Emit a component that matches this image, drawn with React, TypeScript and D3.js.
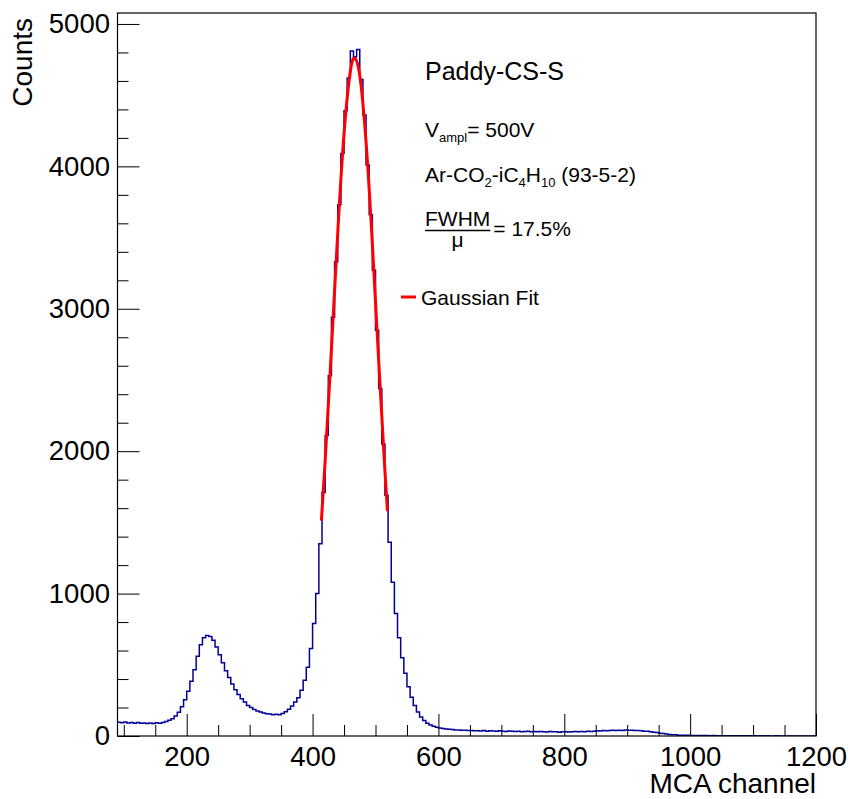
import React, { useEffect, useRef } from "react";
import * as d3 from "d3";

// histogram: 5-channel bins starting at channel 90
const binStart = 90;
const binWidth = 5;
const counts = [
  96, 93, 98, 92, 95, 90, 94, 89, 92, 88, 91, 87, 93, 89, 95, 101, 110, 122, 140, 166,
  205, 255, 315, 385, 465, 560, 640, 690, 705, 698, 672, 625, 570, 515, 458, 410, 365, 325, 292, 262,
  238, 215, 200, 186, 176, 168, 162, 157, 154, 150, 152, 149, 158, 170, 188, 210, 238, 268, 322, 392,
  482, 615, 790, 1000, 1350, 1710, 2110, 2530, 2940, 3330, 3730, 4090, 4390, 4620, 4810, 4770, 4820, 4610, 4360, 4010,
  3660, 3270, 2850, 2440, 2050, 1690, 1360, 1080, 860, 690, 550, 440, 345, 272, 214, 168, 133, 108, 90, 78,
  68, 61, 56, 52, 49, 47, 45, 43, 42, 40,
  40, 38, 39, 36, 37, 35, 38, 34, 36, 35, 33, 36, 34, 32, 35, 33, 31, 34, 30, 32,
  33, 30, 31, 29, 32, 30, 28, 31, 29, 30, 27, 30, 29, 28, 30, 31, 29, 32, 30, 33,
  31, 34, 36, 35, 38, 36, 39, 40, 38, 41, 39, 42, 40, 41, 38, 39, 36, 34, 33, 30,
  27, 24, 20, 17, 14, 11, 9, 8, 6, 6, 5, 5, 4, 4, 3, 4, 3, 3, 2, 3,
  2, 2, 2, 1, 2, 1, 1, 2, 1, 1, 1, 1, 1, 0, 1, 0, 1, 0, 0, 1,
  0, 0, 0, 0, 0, 0, 0, 0, 0, 0, 0, 0,
];

// gaussian fit curve
const fitChannels = [414, 420, 430, 440, 450, 460, 467, 475, 485, 495, 505, 515, 519];
const fitCounts = [1512, 1932, 2722, 3535, 4230, 4666, 4760, 4637, 4170, 3456, 2640, 1859, 1579];

const xMajorTicks = [200, 400, 600, 800, 1000, 1200];
const yMajorTicks = [0, 1000, 2000, 3000, 4000, 5000];

const FONT = "'Liberation Sans', Arial, Helvetica, sans-serif";

const App = () => {
  const svgRef = useRef<SVGSVGElement>(null);

  useEffect(() => {
    const svg = d3.select(svgRef.current);
    svg.selectAll("*").remove();

    const left = 117.5, right = 816, top = 13, bottom = 736;

    const x = d3.scaleLinear().domain([90, 1200]).range([left, right]);
    const y = d3.scaleLinear().domain([0, 5077]).range([bottom, top]);

    const xMinor = d3.range(100, 1201, 50).filter((v) => v % 200 !== 0);
    const yMinor = d3.range(0, 5001, 200).filter((v) => v % 1000 !== 0);

    svg.append("defs").append("clipPath").attr("id", "plotclip")
      .append("rect")
      .attr("x", left).attr("y", top)
      .attr("width", right - left).attr("height", bottom - top);

    // histogram as steps
    const pts: [number, number][] = counts.map((c, i) => [binStart + i * binWidth, c]);
    pts.push([binStart + counts.length * binWidth, counts[counts.length - 1]]);

    const step = d3.line<[number, number]>()
      .x((d) => x(d[0]))
      .y((d) => y(d[1]))
      .curve(d3.curveStepAfter);

    svg.append("path")
      .datum(pts)
      .attr("clip-path", "url(#plotclip)")
      .attr("fill", "none")
      .attr("stroke", "#000099")
      .attr("stroke-width", 1.5)
      .attr("d", step);

    // fit
    const fitLine = d3.line<number>()
      .x((d, i) => x(fitChannels[i]))
      .y((d) => y(d))
      .curve(d3.curveNatural);

    svg.append("path")
      .datum(fitCounts)
      .attr("fill", "none")
      .attr("stroke", "#ff0000")
      .attr("stroke-width", 3)
      .attr("d", fitLine);

    // axes, ticks pointing inwards
    const xAxis = svg.append("g").attr("transform", `translate(0, ${bottom})`)
      .call(d3.axisBottom(x).tickValues(xMajorTicks).tickSize(-22).tickPadding(10).tickFormat(d3.format("d")));
    svg.append("g").attr("transform", `translate(0, ${bottom})`)
      .call(d3.axisBottom(x).tickValues(xMinor).tickSize(-11).tickFormat(() => ""));

    const yAxis = svg.append("g").attr("transform", `translate(${left}, 0)`)
      .call(d3.axisLeft(y).tickValues(yMajorTicks).tickSize(-22).tickPadding(7.5).tickFormat(d3.format("d")));
    svg.append("g").attr("transform", `translate(${left}, 0)`)
      .call(d3.axisLeft(y).tickValues(yMinor).tickSize(-11).tickFormat(() => ""));

    svg.selectAll(".domain").remove();
    svg.selectAll(".tick line").attr("stroke", "#000").attr("stroke-width", 1);
    [xAxis, yAxis].forEach((g) =>
      g.selectAll("text").attr("font-family", FONT).attr("font-size", 27.5).attr("fill", "#000"));

    // frame
    svg.append("rect")
      .attr("x", left).attr("y", top)
      .attr("width", right - left).attr("height", bottom - top)
      .attr("fill", "none").attr("stroke", "#000").attr("stroke-width", 1.2);

    // axis titles
    svg.append("text")
      .attr("x", right).attr("y", 793)
      .attr("text-anchor", "end")
      .attr("font-family", FONT).attr("font-size", 28)
      .text("MCA channel");

    svg.append("text")
      .attr("transform", `translate(32, 18) rotate(-90)`)
      .attr("text-anchor", "end")
      .attr("font-family", FONT).attr("font-size", 28)
      .text("Counts");

    // annotations
    const tx = 425;
    const fs = 21;
    const sub = 13;
    svg.append("text").attr("x", tx).attr("y", 80)
      .attr("font-family", FONT).attr("font-size", 25).text("Paddy-CS-S");

    const v = svg.append("text").attr("x", tx).attr("y", 137)
      .attr("font-family", FONT).attr("font-size", fs);
    v.append("tspan").text("V");
    v.append("tspan").attr("font-size", sub).attr("dy", 5).text("ampl");
    v.append("tspan").attr("dy", -5).text("= 500V");

    const gas = svg.append("text").attr("x", tx).attr("y", 182)
      .attr("font-family", FONT).attr("font-size", fs);
    gas.append("tspan").text("Ar-CO");
    gas.append("tspan").attr("font-size", sub).attr("dy", 5).text("2");
    gas.append("tspan").attr("dy", -5).text("-iC");
    gas.append("tspan").attr("font-size", sub).attr("dy", 5).text("4");
    gas.append("tspan").attr("dy", -5).text("H");
    gas.append("tspan").attr("font-size", sub).attr("dy", 5).text("10");
    gas.append("tspan").attr("dy", -5).text(" (93-5-2)");

    const num = svg.append("text").attr("x", tx).attr("y", 226)
      .attr("font-family", FONT).attr("font-size", fs).text("FWHM");
    const numW = (num.node() as SVGTextElement).getComputedTextLength();
    svg.append("line")
      .attr("x1", tx).attr("x2", tx + numW)
      .attr("y1", 230.5).attr("y2", 230.5)
      .attr("stroke", "#000").attr("stroke-width", 1.3);
    svg.append("text").attr("x", tx + numW / 2).attr("y", 247)
      .attr("text-anchor", "middle")
      .attr("font-family", FONT).attr("font-size", fs).text("\u03bc");
    svg.append("text").attr("x", tx + numW + 3).attr("y", 236)
      .attr("font-family", FONT).attr("font-size", fs).text("= 17.5%");

    // legend
    svg.append("line")
      .attr("x1", 401).attr("x2", 416)
      .attr("y1", 297).attr("y2", 297)
      .attr("stroke", "#ff0000").attr("stroke-width", 3);
    svg.append("text").attr("x", 421).attr("y", 304.5)
      .attr("font-family", FONT).attr("font-size", fs).text("Gaussian Fit");
  }, []);

  return (
    <svg
      ref={svgRef}
      width={850}
      height={799}
      style={{ position: "absolute", left: 0, top: 0, background: "#fff" }}
    />
  );
};

export default App;
